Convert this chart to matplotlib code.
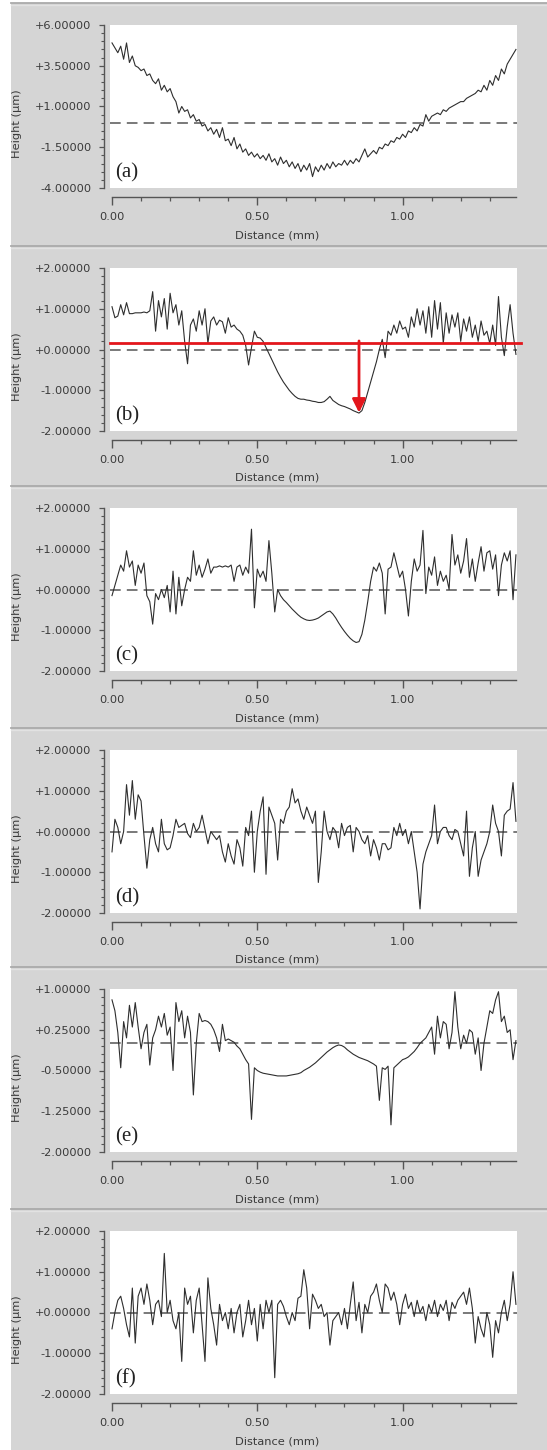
import numpy as np
import matplotlib
matplotlib.use('Agg')
import matplotlib.pyplot as plt
from matplotlib.ticker import FixedLocator, MultipleLocator, AutoMinorLocator, FuncFormatter
from matplotlib.patches import Rectangle
from matplotlib.lines import Line2D

# ---------------- data ----------------
distance_mm = np.round(np.arange(140) * 0.01, 2)   # sampling grid 0.00 .. 1.39 mm

height_a = [4.9, 4.6, 4.3, 4.7, 3.9, 4.9, 3.7, 4.1, 3.5, 3.4,
            3.2, 3.3, 2.9, 3.0, 2.6, 2.4, 2.7, 2.0, 2.3, 1.9,
            2.1, 1.6, 1.3, 0.6, 1.0, 0.7, 0.8, 0.3, 0.5, 0.1,
            0.2, -0.2, -0.1, -0.5, -0.3, -0.7, -0.4, -0.9, -0.3, -1.1,
            -1.0, -1.4, -0.9, -1.6, -1.3, -1.8, -1.6, -2.0, -1.8, -2.1,
            -1.9, -2.2, -2.0, -2.3, -1.9, -2.4, -2.2, -2.6, -2.1, -2.5,
            -2.3, -2.7, -2.4, -2.8, -2.5, -3.0, -2.6, -2.9, -2.5, -3.3,
            -2.7, -3.0, -2.6, -2.9, -2.5, -2.8, -2.4, -2.7, -2.5, -2.6,
            -2.3, -2.6, -2.3, -2.5, -2.2, -2.4, -2.0, -1.6, -2.1, -1.9,
            -1.7, -1.9, -1.5, -1.6, -1.3, -1.4, -1.1, -1.2, -0.9, -1.0,
            -0.7, -0.9, -0.5, -0.6, -0.3, -0.5, -0.1, -0.2, 0.5, 0.1,
            0.4, 0.5, 0.6, 0.5, 0.8, 0.7, 0.9, 1.0, 1.1, 1.2,
            1.3, 1.3, 1.5, 1.6, 1.7, 1.8, 2.0, 1.9, 2.3, 2.0,
            2.6, 2.3, 2.9, 2.6, 3.3, 3.0, 3.6, 3.9, 4.2, 4.5]

height_b = [1.05, 0.78, 0.82, 1.1, 0.85, 1.15, 0.88, 0.88, 0.9, 0.9,
            0.9, 0.92, 0.9, 0.95, 1.42, 0.45, 1.2, 0.8, 1.25, 0.5,
            1.38, 0.9, 1.1, 0.6, 0.95, 0.2, -0.35, 0.6, 0.75, 0.45,
            0.95, 0.6, 1.0, 0.15, 0.7, 0.8, 0.6, 0.72, 0.68, 0.4,
            0.78, 0.55, 0.6, 0.5, 0.45, 0.35, 0.1, -0.38, 0.05, 0.45,
            0.3, 0.28, 0.2, 0.05, -0.1, -0.25, -0.4, -0.55, -0.68, -0.8,
            -0.9, -1.0, -1.08, -1.15, -1.2, -1.22, -1.22, -1.24, -1.25, -1.27,
            -1.28, -1.3, -1.3, -1.28, -1.22, -1.15, -1.25, -1.3, -1.35, -1.38,
            -1.4, -1.43, -1.46, -1.5, -1.53, -1.56, -1.5, -1.3, -1.05, -0.8,
            -0.55, -0.3, 0.0, 0.25, -0.2, 0.45, 0.35, 0.6, 0.4, 0.7,
            0.5, 0.55, 0.3, 0.8, 0.55, 1.0, 0.6, 0.95, 0.4, 1.05,
            0.3, 1.2, 0.5, 1.15, 0.15, 0.9, 0.4, 0.85, 0.55, 0.9,
            0.2, 0.75, 0.45, 0.8, 0.3, 0.6, 0.2, 0.7, 0.35, 0.45,
            0.15, 0.6, 0.1, 1.3, 0.3, -0.15, 0.55, 1.1, 0.4, -0.12]

height_c = [-0.15, 0.1, 0.35, 0.6, 0.45, 0.95, 0.55, 0.7, 0.1, 0.6,
            0.4, 0.65, -0.15, -0.3, -0.85, -0.1, -0.25, 0.0, -0.2, 0.1,
            -0.55, 0.45, -0.6, 0.3, -0.4, 0.0, 0.3, 0.2, 0.95, 0.35,
            0.6, 0.3, 0.5, 0.75, 0.4, 0.55, 0.55, 0.58, 0.55, 0.58,
            0.55, 0.6, 0.2, 0.55, 0.6, 0.35, 0.55, 0.4, 1.48, -0.45,
            0.5, 0.3, 0.45, 0.2, 1.2, 0.4, -0.55, 0.0, -0.15, -0.25,
            -0.32, -0.4, -0.48, -0.55, -0.62, -0.68, -0.72, -0.75, -0.76, -0.75,
            -0.73, -0.7, -0.65, -0.6, -0.55, -0.53, -0.6, -0.7, -0.82, -0.93,
            -1.03, -1.12, -1.2, -1.26, -1.3, -1.28, -1.1, -0.75, -0.3, 0.2,
            0.55, 0.45, 0.65, 0.4, -0.6, 0.5, 0.55, 0.9, 0.6, 0.3,
            0.45, 0.0, -0.65, 0.2, 0.75, 0.45, 0.6, 1.45, -0.1, 0.55,
            0.35, 0.8, 0.1, 0.45, 0.2, 0.35, 0.0, 1.35, 0.6, 0.85,
            0.4, 0.7, 1.25, 0.3, 0.75, 0.2, 0.65, 1.05, 0.45, 0.9,
            0.95, 0.5, 0.85, -0.15, 0.6, 0.9, 0.7, 0.95, -0.25, 0.85]

height_d = [-0.5, 0.3, 0.1, -0.3, 0.0, 1.15, 0.4, 1.25, 0.3, 0.9,
            0.75, -0.1, -0.9, -0.2, 0.1, -0.3, -0.5, 0.3, -0.3, -0.45,
            -0.4, -0.1, 0.3, 0.1, 0.15, 0.2, -0.05, -0.15, 0.2, 0.0,
            0.1, 0.4, 0.05, -0.3, 0.0, -0.1, -0.2, -0.1, -0.5, -0.75,
            -0.3, -0.6, -0.8, -0.2, -0.4, -0.85, 0.1, -0.1, 0.5, -1.0,
            0.0, 0.5, 0.85, -1.05, 0.6, 0.4, 0.2, -0.7, 0.3, 0.2,
            0.5, 0.6, 1.05, 0.7, 0.8, 0.5, 0.3, 0.6, 0.4, 0.2,
            0.5, -1.25, -0.5, 0.5, 0.0, -0.2, 0.1, 0.0, -0.4, 0.2,
            -0.1, 0.1, 0.15, -0.5, 0.1, 0.0, -0.2, -0.3, -0.1, -0.6,
            -0.2, -0.4, -0.7, -0.3, -0.3, -0.45, -0.4, 0.1, -0.1, 0.2,
            -0.1, 0.05, -0.3, 0.0, -0.5, -1.0, -1.9, -0.8, -0.5, -0.3,
            -0.1, 0.65, -0.3, 0.0, 0.1, 0.1, -0.1, -0.2, 0.05, 0.0,
            -0.3, -0.6, 0.5, -1.1, -0.4, 0.0, -1.1, -0.7, -0.5, -0.3,
            0.0, 0.65, 0.2, 0.0, -0.6, 0.4, 0.5, 0.55, 1.2, 0.25]

height_e = [0.8, 0.6, 0.2, -0.45, 0.4, 0.1, 0.7, 0.3, 0.75, 0.3,
            -0.1, 0.2, 0.35, -0.4, 0.1, 0.25, 0.5, 0.3, 0.55, 0.15,
            0.3, -0.5, 0.75, 0.4, 0.6, 0.1, 0.5, 0.2, -0.95, 0.0,
            0.55, 0.4, 0.42, 0.4, 0.35, 0.25, 0.1, -0.15, 0.35, 0.05,
            0.08, 0.05, 0.02, -0.05, -0.1, -0.2, -0.3, -0.38, -1.4, -0.45,
            -0.5, -0.53, -0.55, -0.56, -0.57, -0.58, -0.59, -0.6, -0.6, -0.6,
            -0.6, -0.59, -0.58, -0.57, -0.56, -0.54, -0.5, -0.47, -0.44, -0.4,
            -0.36, -0.31, -0.26, -0.21, -0.16, -0.12, -0.08, -0.05, -0.03, -0.04,
            -0.07, -0.12, -0.16, -0.2, -0.23, -0.26, -0.28, -0.3, -0.32, -0.35,
            -0.38, -0.42, -1.05, -0.45, -0.48, -0.42, -1.5, -0.45, -0.4, -0.35,
            -0.3, -0.28, -0.25, -0.2, -0.15, -0.08, 0.0, 0.05, 0.1, 0.2,
            0.3, -0.2, 0.5, 0.1, 0.4, 0.35, -0.1, 0.2, 0.95, 0.3,
            -0.1, 0.15, 0.0, 0.25, 0.2, -0.2, 0.1, -0.5, 0.0, 0.3,
            0.6, 0.55, 0.8, 0.95, 0.4, 0.5, 0.2, 0.25, -0.3, 0.05]

height_f = [-0.4, 0.0, 0.3, 0.4, 0.1, -0.3, -0.6, 0.6, -0.75, 0.4,
            0.6, 0.2, 0.7, 0.3, -0.3, 0.2, 0.3, -0.1, 1.45, 0.0,
            0.3, -0.2, -0.4, 0.0, -1.2, 0.6, 0.2, 0.4, -0.5, 0.3,
            0.6, -0.3, -1.2, 0.85, 0.1, -0.3, -0.8, 0.2, -0.2, 0.0,
            -0.4, 0.1, -0.5, 0.0, 0.2, -0.6, -0.2, 0.3, -0.3, 0.1,
            -0.7, 0.2, -0.4, 0.3, 0.0, 0.3, -1.6, 0.2, 0.3, 0.15,
            -0.1, -0.3, 0.0, -0.2, 0.35, 0.4, 1.05, 0.6, -0.4, 0.45,
            0.3, 0.1, 0.2, -0.1, 0.0, -0.8, -0.2, -0.1, 0.0, -0.3,
            0.1, -0.4, 0.2, 0.75, -0.2, 0.25, -0.5, 0.2, 0.0, 0.4,
            0.5, 0.7, 0.3, 0.0, 0.7, 0.6, 0.3, 0.5, 0.2, -0.3,
            0.2, 0.45, 0.1, 0.25, -0.1, 0.3, 0.0, 0.15, -0.2, 0.2,
            0.0, 0.3, -0.1, 0.2, 0.05, 0.3, -0.2, 0.25, 0.1, 0.3,
            0.4, 0.5, 0.2, 0.6, 0.1, -0.75, -0.1, -0.4, -0.6, 0.0,
            -0.3, -1.1, -0.2, -0.5, 0.0, 0.3, -0.2, 0.2, 1.0, 0.2]

heights = [height_a, height_b, height_c, height_d, height_e, height_f]
panel_labels = ['(a)', '(b)', '(c)', '(d)', '(e)', '(f)']
y_limits = [(-4.0, 6.0), (-2.0, 2.0), (-2.0, 2.0), (-2.0, 2.0), (-2.0, 1.0), (-2.0, 2.0)]
y_major_ticks = [[-4.0, -1.5, 1.0, 3.5, 6.0],
                 [-2.0, -1.0, 0.0, 1.0, 2.0],
                 [-2.0, -1.0, 0.0, 1.0, 2.0],
                 [-2.0, -1.0, 0.0, 1.0, 2.0],
                 [-2.0, -1.25, -0.5, 0.25, 1.0],
                 [-2.0, -1.0, 0.0, 1.0, 2.0]]
x_major_ticks = [0.0, 0.5, 1.0]
x_major_labels = ['0.00', '0.50', '1.00']
x_minor_step = 0.1
x_max = 1.39
reference_level = 0.0
red_level_b = 0.15
red_arrow_x_b = 0.85
red_arrow_tip_b = -1.55

# ---------------- layout ----------------
W, H = 547, 1450
fig = plt.figure(figsize=(W / 100, H / 100), dpi=100)
fig.patch.set_facecolor('white')


def rect(x, y, w, h):
    return [x / W, 1 - (y + h) / H, w / W, h / H]


plot_tops = [25, 268, 508, 750, 989, 1231]
plot_h = 163
plot_left, plot_w = 110, 407
px_per_mm = 290.6
x0_px = 112

BG = '#d5d5d5'
TXT = '#3a3a3a'
AX = '#555555'

# panel backgrounds and separators
for i, top in enumerate(plot_tops):
    sep = top - 22
    nxt = plot_tops[i + 1] - 22 if i < 5 else H
    fig.add_artist(Rectangle((11 / W, 1 - nxt / H), (W - 11) / W, (nxt - sep) / H,
                             transform=fig.transFigure, facecolor=BG,
                             edgecolor='none', zorder=0))
    fig.add_artist(Line2D([11 / W, 1], [1 - sep / H, 1 - sep / H],
                          transform=fig.transFigure, color='#aaaaaa', lw=1.3, zorder=1))
    fig.add_artist(Line2D([11 / W, 1], [1 - (sep + 2) / H, 1 - (sep + 2) / H],
                          transform=fig.transFigure, color='#e2e2e2', lw=1.0, zorder=1))


def fmt_y(v, pos):
    return f"{v + 0.0:+.5f}"


for i in range(6):
    top = plot_tops[i]
    ax = fig.add_axes(rect(plot_left, top, plot_w, plot_h))
    ax.set_facecolor('white')
    ax.plot(distance_mm, heights[i], color='#2e2e2e', lw=0.8, zorder=3)
    ax.axhline(reference_level, color='#555555', lw=1.1, ls=(0, (7, 4)), zorder=2)
    ax.set_xlim(-(x0_px - plot_left) / px_per_mm, (plot_left + plot_w - x0_px) / px_per_mm)
    ax.set_ylim(*y_limits[i])

    for s in ['top', 'right']:
        ax.spines[s].set_visible(False)
    ax.spines['left'].set_position(('outward', 4.3))
    ax.spines['bottom'].set_position(('outward', 6.5))
    ax.spines['left'].set_bounds(*y_limits[i])
    ax.spines['bottom'].set_bounds(0, x_max)
    for s in ['left', 'bottom']:
        ax.spines[s].set_color(AX)
        ax.spines[s].set_linewidth(1.0)

    ax.yaxis.set_major_locator(FixedLocator(y_major_ticks[i]))
    ax.yaxis.set_minor_locator(AutoMinorLocator(5))
    ax.yaxis.set_major_formatter(FuncFormatter(fmt_y))
    ax.xaxis.set_major_locator(FixedLocator(x_major_ticks))
    ax.set_xticklabels(x_major_labels)
    ax.xaxis.set_minor_locator(MultipleLocator(x_minor_step))

    ax.tick_params(axis='y', which='major', direction='out', length=3.6, width=0.9,
                   color=AX, pad=5.5, labelsize=8.2, labelcolor=TXT)
    ax.tick_params(axis='y', which='minor', direction='out', length=2.4, width=0.8, color=AX)
    ax.tick_params(axis='x', which='major', direction='out', length=6.0, width=1.0,
                   color=AX, pad=4.5, labelsize=8.2, labelcolor=TXT)
    ax.tick_params(axis='x', which='minor', direction='out', length=3.2, width=0.9, color=AX)

    ax.text(5 / plot_w, 15 / plot_h, panel_labels[i], transform=ax.transAxes,
            family='Liberation Serif', fontsize=15, color='#222222',
            ha='left', va='center', zorder=5)

    bottom = top + plot_h
    fig.text(277 / W, 1 - (bottom + 47) / H, 'Distance (mm)', ha='center', va='center',
             fontsize=8.2, color=TXT)
    fig.text(17 / W, 1 - (top + plot_h / 2 + 17) / H, 'Height (µm)', ha='center',
             va='center', rotation=90, fontsize=8.2, color=TXT)

    if i == 1:
        ax.axhline(red_level_b, xmin=0, xmax=1.01, color='#e3161c', lw=2.0,
                   clip_on=False, zorder=6)
        ax.annotate('', xy=(red_arrow_x_b, red_arrow_tip_b),
                    xytext=(red_arrow_x_b, red_level_b + 0.06),
                    arrowprops=dict(arrowstyle='-|>', color='#e3161c', lw=2.0,
                                    mutation_scale=20, shrinkA=0, shrinkB=0),
                    zorder=7)

fig.savefig('out.png', dpi=100, facecolor=fig.get_facecolor())
